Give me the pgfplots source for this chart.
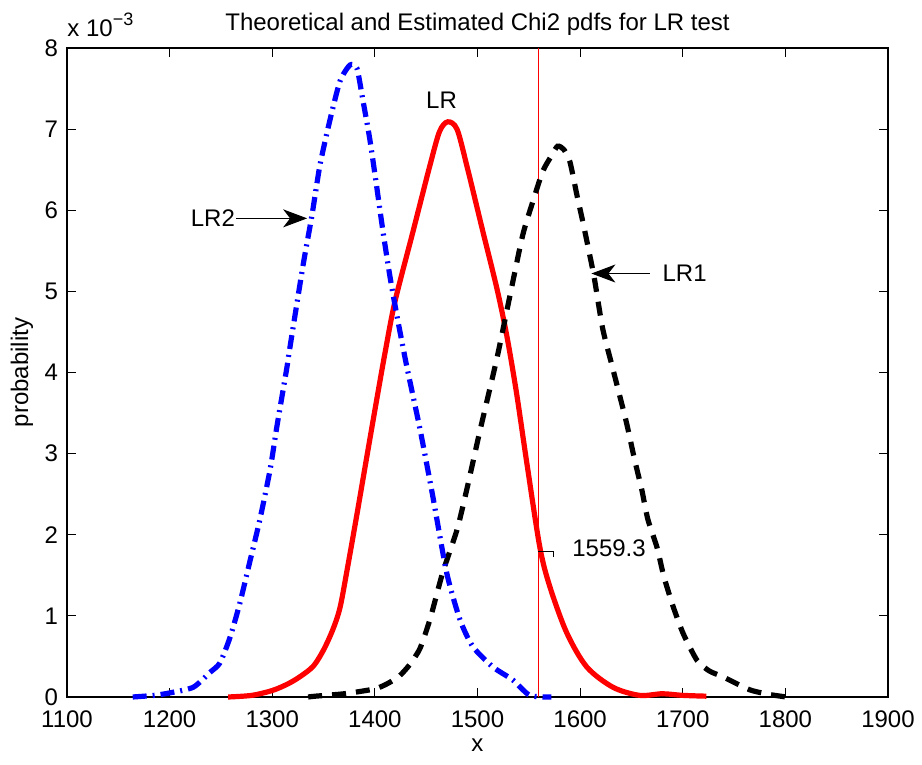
\documentclass[border=0pt]{standalone}
\usepackage{fontspec}
\setmainfont{Liberation Sans}
\usepackage{pgfplots}
\pgfplotsset{compat=1.18}
\usetikzlibrary{arrows.meta}

\pgfplotstableread{
x y
1257 0
1280 0.00002
1300 0.00008
1315 0.00016
1327 0.00025
1340 0.00038
1350 0.00058
1359 0.00083
1366 0.00110
1373 0.00157
1382.5 0.00225
1392 0.00295
1402 0.00368
1410 0.00425
1419.5 0.00487
1437 0.00573
1453.6 0.00655
1463 0.00697
1471 0.00709
1480 0.00700
1489.6 0.00655
1505 0.00575
1519 0.00503
1528.6 0.00445
1538 0.00375
1548 0.00289
1560.7 0.00185
1570.5 0.00136
1587 0.00079
1606.5 0.00037
1632 0.00012
1658 0.00002
1680 0.00004
1700 0.00002
1723 0.00001
}\LRdata

\pgfplotstableread{
x y
1164 0
1185 0.00002
1200 0.00005
1223 0.00012
1239 0.00030
1249 0.00042
1259 0.00074
1268.5 0.00116
1278 0.00166
1288 0.00219
1298 0.00281
1304.6 0.00334
1314 0.00404
1317 0.00429
1330 0.00532
1338.6 0.00593
1346.4 0.00655
1356 0.00710
1366 0.00759
1375.7 0.00779
1382.5 0.00775
1388 0.00738
1395 0.00688
1402 0.00627
1408 0.00573
1414.6 0.00519
1421.5 0.00470
1431 0.00408
1444 0.00330
1456.5 0.00247
1470 0.00153
1483 0.00095
1495.5 0.00062
1515 0.00037
1534.4 0.00021
1551 0.00002
1572 0
}\LRtwo

\pgfplotstableread{
x y
1335 0
1342 0.00001
1370 0.00004
1400 0.00010
1413 0.00017
1424 0.00026
1434 0.00040
1444 0.00060
1454 0.00097
1466 0.00153
1480 0.00206
1489.6 0.00256
1502 0.00326
1519 0.00418
1531.5 0.00494
1544 0.00569
1554 0.00611
1563.6 0.00648
1572 0.00667
1578 0.00679
1584 0.00675
1590 0.00660
1597 0.00618
1602.6 0.00586
1609.5 0.00544
1614 0.00515
1622 0.00454
1632 0.00404
1645 0.00339
1653 0.00293
1660 0.00256
1666 0.00219
1675 0.00184
1681.5 0.00149
1690.5 0.00112
1700.5 0.00078
1714 0.00045
1726 0.00032
1739 0.00025
1765 0.00009
1785 0.00003
1801 0
}\LRone

\begin{document}
\begin{tikzpicture}[font=\fontsize{12}{14}\selectfont]
\begin{axis}[
  scale only axis, width=410.5pt, height=324.5pt,
  xmin=1100, xmax=1900, ymin=0, ymax=0.008,
  xtick={1100,1200,...,1900},
  ytick={0,0.001,0.002,0.003,0.004,0.005,0.006,0.007,0.008},
  yticklabels={0,1,2,3,4,5,6,7,8},
  scaled y ticks=false,
  /pgf/number format/assume math mode=true,
  /pgf/number format/1000 sep={},
  tick align=inside, major tick length=4.5pt,
  tick style={black, line width=0.5pt},
  axis line style={line width=0.6pt},
  xticklabel style={anchor=base, yshift=-15.5pt},
  yticklabel style={anchor=east, xshift=-1pt},
  title={Theoretical and Estimated Chi2 pdfs for LR test},
  title style={at={(0.5,1)}, anchor=base, yshift=2.5pt},
  xlabel={x},
  xlabel style={at={(axis description cs:0.5,0)}, anchor=base, yshift=-27.5pt},
  ylabel={probability},
  ylabel style={at={(axis description cs:-0.0548,0.5)}, anchor=center},
  clip=false,
]
\addplot[red, line width=0.5pt] coordinates {(1559.3,0) (1559.3,0.008)};
\addplot[red, line width=2.6pt, smooth, tension=0.5] table[x=x,y=y] {\LRdata};
\addplot[black, line width=2.6pt, smooth, tension=0.4, dash pattern=on 7pt off 5pt] table[x=x,y=y] {\LRone};
\addplot[blue, line width=2.6pt, smooth, tension=0.4, dash pattern=on 7pt off 3pt on 1pt off 3pt] table[x=x,y=y] {\LRtwo};

\node[anchor=base] at (axis cs:1465,0.00726) {LR};
\node[anchor=east, inner sep=0pt] at (axis cs:1264,0.00590) {LR2};
\draw[line width=0.5pt, -{Stealth[length=12pt,width=9pt,inset=3.5pt]}] (axis cs:1265,0.00590) -- (axis cs:1334,0.00590);
\node[anchor=west, inner sep=0pt] at (axis cs:1680,0.00522) {LR1};
\draw[line width=0.5pt, -{Stealth[length=12pt,width=9pt,inset=3.5pt]}] (axis cs:1668,0.00522) -- (axis cs:1611,0.00522);
\draw[line width=0.5pt] (axis cs:1559.3,0.00179) -- (axis cs:1574.4,0.00179) -- (axis cs:1574.4,0.00173);
\node[anchor=west, inner sep=0pt] at (axis cs:1592,0.00183) {1559.3};
\node[anchor=base west, inner sep=0pt] at (axis description cs:0,1) [yshift=5.5pt] {x 10\raisebox{0.9ex}{\fontsize{9}{10}\selectfont −3}};
\end{axis}
\pgfresetboundingbox
\useasboundingbox (-33.5pt,-34pt) rectangle (427.5pt,348.5pt);
\end{tikzpicture}
\end{document}
